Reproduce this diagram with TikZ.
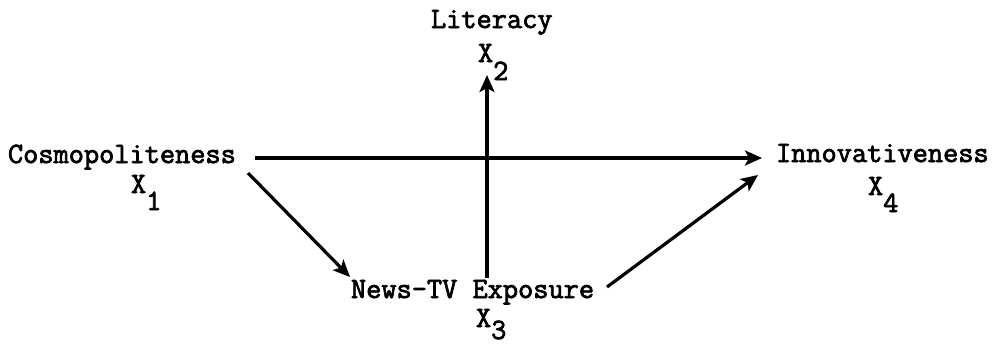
\documentclass[tikz,border=0pt]{standalone}
\usepackage{fontspec}
\setmonofont{Latin Modern Mono}[FakeBold=2.5]
\usetikzlibrary{arrows.meta}
\tikzset{
  lbl/.style={inner sep=0pt, outer sep=0pt, anchor=base west, font=\ttfamily\bfseries\fontsize{29.5}{30}\selectfont},
  conn/.style={line width=3.2pt, -{Stealth[length=17pt,width=15pt,inset=4pt]}}
}
\begin{document}
\begin{tikzpicture}[x=1pt,y=-1pt]
\useasboundingbox (0,0) rectangle (996,346);
\node[lbl] (lit) at (431,28) {Literacy};
\node[lbl] (x2) at (478,62) {X\raisebox{-18pt}{2}};
\node[lbl] (cos) at (8,163) {Cosmopoliteness};
\node[lbl] (x1) at (131,193) {X\raisebox{-17pt}{1}};
\node[lbl] (inn) at (776,162) {Innovativeness};
\node[lbl] (x4) at (868,195) {X\raisebox{-17pt}{4}};
\node[lbl] (news) at (351,298) {News-TV Exposure};
\node[lbl] (x3) at (476,327) {X\raisebox{-12pt}{3}};
\coordinate (cosE) at (255,158);
\coordinate (innW) at (762,158);
\coordinate (cosSE) at (248,173);
\coordinate (newsNW) at (350,277);
\coordinate (newsE) at (607,287);
\coordinate (innSW) at (758,175);
\coordinate (newsN) at (487,278);
\coordinate (x2S) at (487,75);
\draw[conn] (cosE) -- (innW);
\draw[conn] (cosSE) -- (newsNW);
\draw[conn] (newsE) -- (innSW);
\draw[conn] (newsN) -- (x2S);
\end{tikzpicture}
\end{document}
